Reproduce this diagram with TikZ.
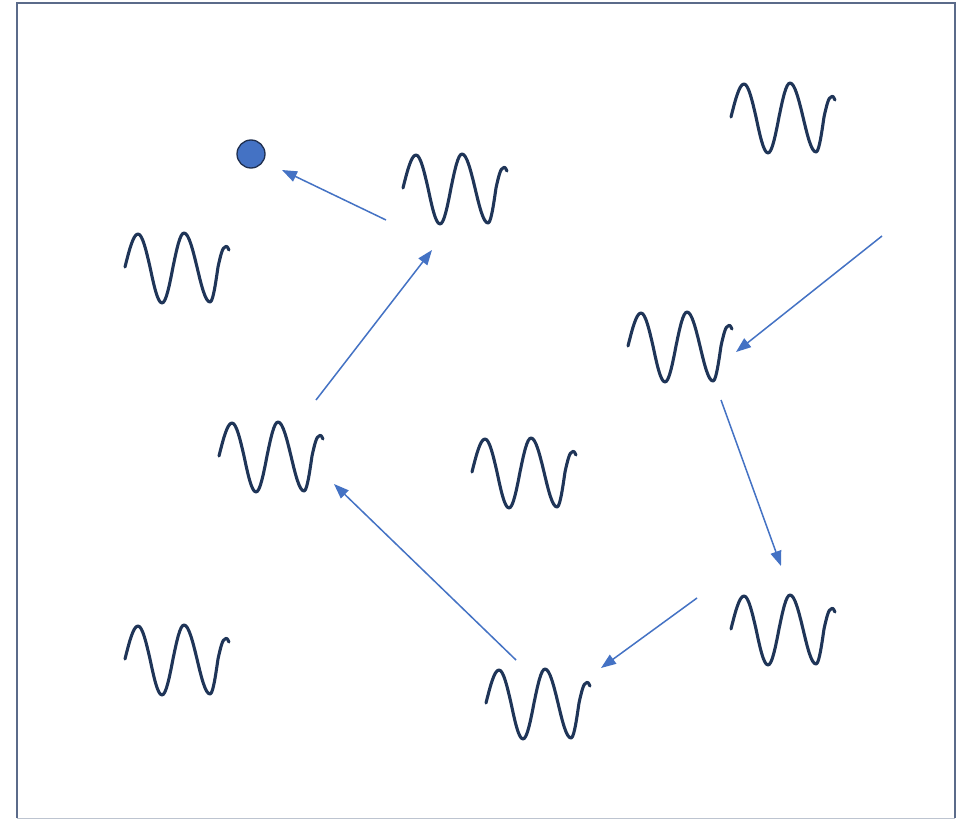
\documentclass[tikz,border=0pt]{standalone}
\usetikzlibrary{arrows.meta}
\definecolor{framec}{HTML}{5B6B8A}
\definecolor{wavec}{HTML}{1F3558}
\definecolor{arrc}{HTML}{4472C4}
\definecolor{dotline}{HTML}{1F2F4F}
\tikzset{
  wavepath/.style={draw=wavec,line width=3.1pt,line cap=round,line join=round},
  conn/.style={draw=arrc,line width=1.5pt,-{Triangle[length=15pt,width=11pt]}},
  pics/wave/.style={code={
    \path[wavepath] (0,0) sin (13,-33) cos (25,0) sin (37,36) cos (48,0)
      sin (59,-34) cos (72,0) sin (85,35) cos (93,0) sin (100,-20)
      .. controls (102,-22) and (103,-19) .. (104,-17);
  }}
}
\begin{document}
\begin{tikzpicture}[x=1pt,y=-1pt]
\useasboundingbox (0,0) rectangle (972,819);
\fill[white] (0,0) rectangle (972,819);
% frame
\draw[framec,line width=2pt] (17,818) -- (17,2.5) -- (954.5,2.5) -- (954.5,818);
\draw[framec!40,line width=1pt] (17,818) -- (954.5,818);
% waves
\pic (w1) at (403,188) {wave};
\pic (w2) at (731,117) {wave};
\pic (w3) at (125,267) {wave};
\pic (w4) at (628,346) {wave};
\pic (w5) at (219,456) {wave};
\pic (w6) at (472,472) {wave};
\pic (w7) at (731,629) {wave};
\pic (w8) at (125,659) {wave};
\pic (w9) at (486,703) {wave};
% dot
\node[circle,draw=dotline,fill=arrc,line width=1.3pt,minimum size=28pt,inner sep=0pt] (dot) at (251,154) {};
% arrow endpoints
\coordinate (a1s) at (386,220); \coordinate (a1e) at (282,170);
\coordinate (a2s) at (316,400); \coordinate (a2e) at (432,250);
\coordinate (a3s) at (882,236); \coordinate (a3e) at (736,352);
\coordinate (a4s) at (721,400); \coordinate (a4e) at (781,566);
\coordinate (a5s) at (697,598); \coordinate (a5e) at (601,668);
\coordinate (a6s) at (516,660); \coordinate (a6e) at (334,484);
\draw[conn] (a1s) -- (a1e);
\draw[conn] (a2s) -- (a2e);
\draw[conn] (a3s) -- (a3e);
\draw[conn] (a4s) -- (a4e);
\draw[conn] (a5s) -- (a5e);
\draw[conn] (a6s) -- (a6e);
\end{tikzpicture}
\end{document}
